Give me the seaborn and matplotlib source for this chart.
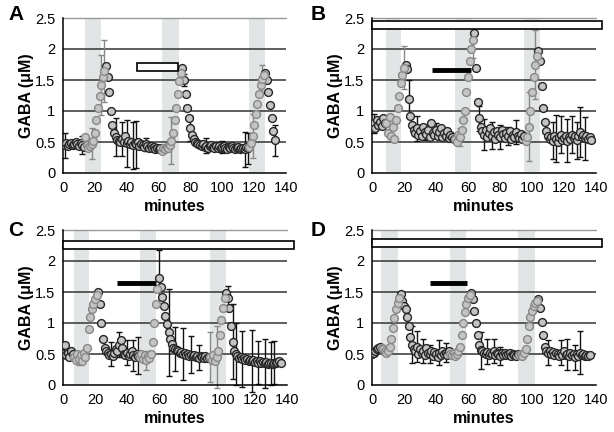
import matplotlib
matplotlib.use("Agg")
import matplotlib.pyplot as plt
import numpy as np
import pandas as pd
import seaborn as sns
from matplotlib.patches import Rectangle

# GABA (uM), one sample per minute starting at t = 0
gaba_a = (
    [0.47, 0.45, 0.48, 0.44, 0.46, 0.49, 0.45, 0.47, 0.50, 0.46, 0.44, 0.48, 0.45]
    + [0.42, 0.58, 0.45, 0.40, 0.44, 0.47, 0.52]
    + [0.65, 0.85, 1.05, 1.25, 1.42, 1.55, 1.65, 1.72]
    + [1.55, 1.30, 1.00, 0.78, 0.65, 0.58, 0.54]
    + [0.52, 0.50, 0.55, 0.50, 0.60, 0.48, 0.52, 0.47, 0.50, 0.45, 0.48, 0.46, 0.50, 0.44,
       0.47, 0.45, 0.42, 0.46, 0.43, 0.41, 0.44, 0.40, 0.42, 0.39, 0.41, 0.38, 0.40]
    + [0.36, 0.40, 0.38, 0.42, 0.40, 0.45, 0.52]
    + [0.65, 0.85, 1.05, 1.28, 1.48, 1.62, 1.70]
    + [1.50, 1.28, 1.05, 0.88, 0.72, 0.62, 0.55, 0.50, 0.48, 0.46]
    + [0.45, 0.43, 0.46, 0.42, 0.44, 0.41, 0.43, 0.45, 0.42, 0.40, 0.44, 0.41, 0.43, 0.40,
       0.42, 0.44, 0.41, 0.39, 0.42, 0.40, 0.43, 0.41, 0.38, 0.40, 0.42, 0.39, 0.41, 0.40,
       0.38, 0.42, 0.40]
    + [0.42, 0.48, 0.60, 0.78]
    + [0.95, 1.12, 1.28, 1.42, 1.52, 1.58, 1.62]
    + [1.50, 1.30, 1.10, 0.88, 0.68, 0.53]
)
gaba_b = (
    [0.75, 0.80, 0.72, 0.85, 0.78, 0.82, 0.76, 0.88, 0.80]
    + [0.80, 0.65, 0.90, 0.60, 0.75, 0.55, 0.85]
    + [1.05, 1.25, 1.45, 1.58, 1.70, 1.75]
    + [1.68, 1.20, 0.92, 0.78, 0.70]
    + [0.65, 0.72, 0.62, 0.68, 0.60, 0.75, 0.66, 0.63, 0.70, 0.58, 0.80, 0.65, 0.62, 0.70,
       0.60, 0.66, 0.72, 0.58, 0.64, 0.60, 0.68, 0.56, 0.62, 0.58, 0.55]
    + [0.55, 0.50, 0.62, 0.58, 0.70, 0.85]
    + [1.00, 1.30, 1.55, 1.80, 2.00, 2.15, 2.26]
    + [1.70, 1.15, 0.88, 0.75, 0.68]
    + [0.62, 0.70, 0.58, 0.65, 0.72, 0.60, 0.66, 0.55, 0.68, 0.62, 0.58, 0.70, 0.63, 0.57,
       0.65, 0.60, 0.68, 0.55, 0.62, 0.58, 0.66, 0.60, 0.57, 0.63, 0.55, 0.60]
    + [0.52, 0.58, 0.75]
    + [1.00, 1.30, 1.55, 1.75, 1.88, 1.96]
    + [1.80, 1.40, 1.05, 0.82, 0.68, 0.60]
    + [0.55, 0.58, 0.52, 0.60, 0.55, 0.50, 0.58, 0.62, 0.54, 0.57, 0.60, 0.52, 0.58, 0.55,
       0.62, 0.56, 0.59, 0.53, 0.60, 0.66, 0.58, 0.62, 0.56, 0.60, 0.55, 0.58, 0.54]
)
gaba_c = (
    [0.50, 0.65, 0.48, 0.52, 0.45, 0.55, 0.50]
    + [0.45, 0.40, 0.50, 0.42, 0.48, 0.38, 0.52, 0.45]
    + [0.60, 0.90, 1.10, 1.22, 1.30, 1.38, 1.45, 1.50]
    + [1.30, 1.00, 0.75, 0.60, 0.55]
    + [0.52, 0.48, 0.50, 0.46, 0.52, 0.58, 0.55, 0.65, 0.72, 0.60, 0.50, 0.48, 0.52, 0.46,
       0.50, 0.55, 0.48, 0.45, 0.50, 0.47]
    + [0.45, 0.50, 0.42, 0.48, 0.40, 0.46, 0.44, 0.50]
    + [0.70, 1.00, 1.30, 1.55]
    + [1.72, 1.58, 1.42, 1.28, 1.12, 0.98, 0.85, 0.75, 0.66, 0.60]
    + [0.58, 0.56, 0.55, 0.52, 0.54, 0.50, 0.52, 0.48, 0.50, 0.47, 0.49, 0.46, 0.48, 0.45,
       0.47, 0.44, 0.46, 0.45, 0.43, 0.46, 0.44, 0.45]
    + [0.45, 0.40, 0.48, 0.38, 0.45, 0.55]
    + [0.80, 1.05, 1.25, 1.40, 1.48]
    + [1.40, 1.25, 0.95, 0.70, 0.55, 0.50]
    + [0.46, 0.44, 0.45, 0.42, 0.43, 0.40, 0.42, 0.39, 0.41, 0.38, 0.40, 0.37, 0.39, 0.36,
       0.38, 0.36, 0.37, 0.35, 0.37, 0.34, 0.36, 0.35, 0.34, 0.36, 0.35, 0.37, 0.38, 0.36]
)
gaba_d = (
    [0.50, 0.52, 0.55, 0.58, 0.60, 0.62]
    + [0.60, 0.58, 0.55, 0.52, 0.55]
    + [0.62, 0.75, 0.92, 1.08, 1.22, 1.32, 1.40, 1.46]
    + [1.35, 1.28, 1.22, 1.10, 0.95, 0.78, 0.65, 0.58]
    + [0.55, 0.62, 0.50, 0.58, 0.52, 0.55, 0.48, 0.60, 0.52, 0.50, 0.55, 0.47, 0.53, 0.50,
       0.45, 0.52, 0.48, 0.55, 0.50, 0.52, 0.48, 0.55]
    + [0.50, 0.48, 0.52, 0.46, 0.50, 0.55]
    + [0.62, 0.80, 1.00, 1.18, 1.30, 1.40, 1.45, 1.48]
    + [1.38, 1.20, 1.00, 0.80, 0.65, 0.56]
    + [0.55, 0.52, 0.50, 0.54, 0.48, 0.52, 0.50, 0.55, 0.48, 0.52, 0.50, 0.47, 0.52, 0.49,
       0.51, 0.48, 0.50, 0.52, 0.47, 0.50, 0.48, 0.46, 0.50]
    + [0.48, 0.50, 0.47, 0.52, 0.58]
    + [0.75, 0.95, 1.10, 1.20, 1.27, 1.32, 1.36, 1.38]
    + [1.25, 1.02, 0.80, 0.62, 0.55]
    + [0.52, 0.55, 0.50, 0.53, 0.48, 0.52, 0.50, 0.47, 0.52, 0.49, 0.55, 0.48, 0.50, 0.46,
       0.52, 0.48, 0.50, 0.45, 0.50, 0.47, 0.52, 0.48, 0.50, 0.46, 0.49, 0.47, 0.48]
)

# stimulation periods (minutes), shaded
bands_a = [(14, 24), (62, 73), (117, 127)]
bands_b = [(9, 18.4), (51.7, 61.7), (95.2, 105.2)]
bands_c = [(6.7, 16.3), (47.9, 57.9), (91.7, 101.7)]
bands_d = [(5.8, 16), (48.9, 59), (91.5, 101.9)]

# error bars: sample minute and SEM
err_t_a = [1, 12, 18, 24, 26, 33, 37, 40, 44, 46, 52, 68, 76, 80, 90, 100, 114, 116, 119, 125, 133]
err_a = [0.2, 0.15, 0.25, 0.48, 0.5, 0.3, 0.28, 0.38, 0.38, 0.38, 0.1, 0.38, 0.1, 0.2, 0.12, 0.1, 0.28, 0.25, 0.35, 0.22, 0.25]
err_t_b = [1, 20, 23, 28, 33, 40, 55, 63, 67, 70, 75, 80, 85, 90, 98, 102, 113, 115, 118, 122, 125, 128, 130, 133]
err_b = [0.15, 0.35, 0.3, 0.2, 0.12, 0.1, 0.15, 0.3, 0.2, 0.25, 0.22, 0.2, 0.15, 0.2, 0.55, 0.55, 0.3, 0.38, 0.3, 0.35, 0.3, 0.3, 0.4, 0.35]
err_t_c = [10, 30, 35, 40, 44, 47, 52, 60, 66, 70, 75, 80, 85, 92, 96, 103, 106, 108, 112, 118, 122, 126, 130, 132]
err_c = [0.1, 0.2, 0.2, 0.2, 0.25, 0.3, 0.15, 0.45, 0.7, 0.35, 0.42, 0.3, 0.2, 0.4, 0.5, 0.2, 0.6, 0.5, 0.45, 0.5, 0.35, 0.4, 0.35, 0.35]
err_t_d = [25, 28, 32, 36, 42, 46, 68, 72, 76, 80, 110, 118, 122, 127, 130]
err_d = [0.3, 0.25, 0.2, 0.15, 0.2, 0.15, 0.3, 0.2, 0.2, 0.15, 0.2, 0.2, 0.25, 0.2, 0.35]

# open bar (x0, x1, y0, y1) and filled bar (x0, x1, y)
box_a, line_a = (46.5, 72.5, 1.65, 1.77), None
box_b, line_b = (0, 144, 2.32, 2.445), (37.2, 61.6, 1.66)
box_c, line_c = (0, 144.5, 2.2, 2.32), (33.5, 58.3, 1.65)
box_d, line_d = (0, 143.5, 2.23, 2.355), (36.5, 59.3, 1.65)

panels = [
    ("A", gaba_a, bands_a, err_t_a, err_a, box_a, line_a, [63, 173, 223, 155]),
    ("B", gaba_b, bands_b, err_t_b, err_b, box_b, line_b, [372, 173, 224, 155]),
    ("C", gaba_c, bands_c, err_t_c, err_c, box_c, line_c, [63, 385, 224, 155]),
    ("D", gaba_d, bands_d, err_t_d, err_d, box_d, line_d, [372, 385, 224, 155]),
]

W, H = 614, 432
sns.set_style("white")
plt.rcParams["font.family"] = ["Liberation Sans", "DejaVu Sans"]
plt.rcParams.update({"text.color": "black", "axes.labelcolor": "black",
                     "xtick.color": "black", "ytick.color": "black"})

fig = plt.figure(figsize=(W / 100, H / 100), dpi=100)

for letter, vals, bands, et, ev, box, line, (px, py, pw, ph) in panels:
    ax = fig.add_axes([px / W, (H - py) / H, pw / W, ph / H])
    df = pd.DataFrame({"minutes": np.arange(len(vals)), "gaba": vals})

    # rising phase (stimulus onset to peak) drawn with grey outlines
    df["rise"] = False
    for s, e in bands:
        win = df[(df.minutes >= s) & (df.minutes <= e + 8)]
        peak_t = win.loc[win.gaba.idxmax(), "minutes"]
        df.loc[(df.minutes >= s) & (df.minutes < peak_t), "rise"] = True

    for s, e in bands:
        ax.axvspan(s, e, color="#e2e5e5", lw=0, zorder=0)
    for yv in [0.5, 1, 1.5, 2]:
        ax.axhline(yv, color="#333333", lw=1.1, zorder=1)
    ax.axhline(2.5, color="#999999", lw=1.0, zorder=1, clip_on=False)

    eb = df.set_index("minutes").loc[et]
    for rise, col in [(False, "#111111"), (True, "#888888")]:
        sel = eb["rise"] == rise
        ax.errorbar(np.array(et)[sel.values], eb.gaba[sel], yerr=np.array(ev)[sel.values],
                    fmt="none", ecolor=col, elinewidth=1.0, capsize=2.2, capthick=1.0,
                    zorder=2, clip_on=False)

    sns.scatterplot(data=df[~df.rise], x="minutes", y="gaba", ax=ax, s=32,
                    color="#c4c4c4", edgecolor="#262626", linewidth=1.0, zorder=3, legend=False)
    sns.scatterplot(data=df[df.rise], x="minutes", y="gaba", ax=ax, s=32,
                    color="#c4c4c4", edgecolor="#888888", linewidth=1.0, zorder=3, legend=False)

    x0, x1, y0, y1 = box
    ax.add_patch(Rectangle((x0, y0), x1 - x0, y1 - y0, facecolor="white",
                           edgecolor="black", lw=1.2, zorder=4, clip_on=False))
    if line is not None:
        ax.plot([line[0], line[1]], [line[2], line[2]], color="black", lw=3.5,
                solid_capstyle="butt", zorder=4)

    ax.set_xlim(0, 140)
    ax.set_ylim(0, 2.5)
    ax.set_xticks(range(0, 141, 20))
    ax.set_yticks([0, 0.5, 1, 1.5, 2, 2.5])
    ax.set_yticklabels(["0", "0.5", "1", "1.5", "2", "2.5"])
    ax.tick_params(direction="out", length=3.5, width=1, color="black",
                   labelsize=10.5, pad=2)
    for side in ["top", "right"]:
        ax.spines[side].set_visible(False)
    for side in ["left", "bottom"]:
        ax.spines[side].set_color("black")
        ax.spines[side].set_linewidth(1.1)
    ax.set_xlabel("minutes", fontsize=11.5, fontweight="bold", labelpad=3)
    ax.set_ylabel("GABA (\u03bcM)", fontsize=11.5, fontweight="bold", labelpad=1)

    lx = 16 if letter in "AC" else 318
    ly = 15 if letter in "AB" else 230
    fig.text(lx / W, 1 - ly / H, letter, fontsize=15, fontweight="bold",
             ha="center", va="center")

fig.savefig("out.png", dpi=100)
